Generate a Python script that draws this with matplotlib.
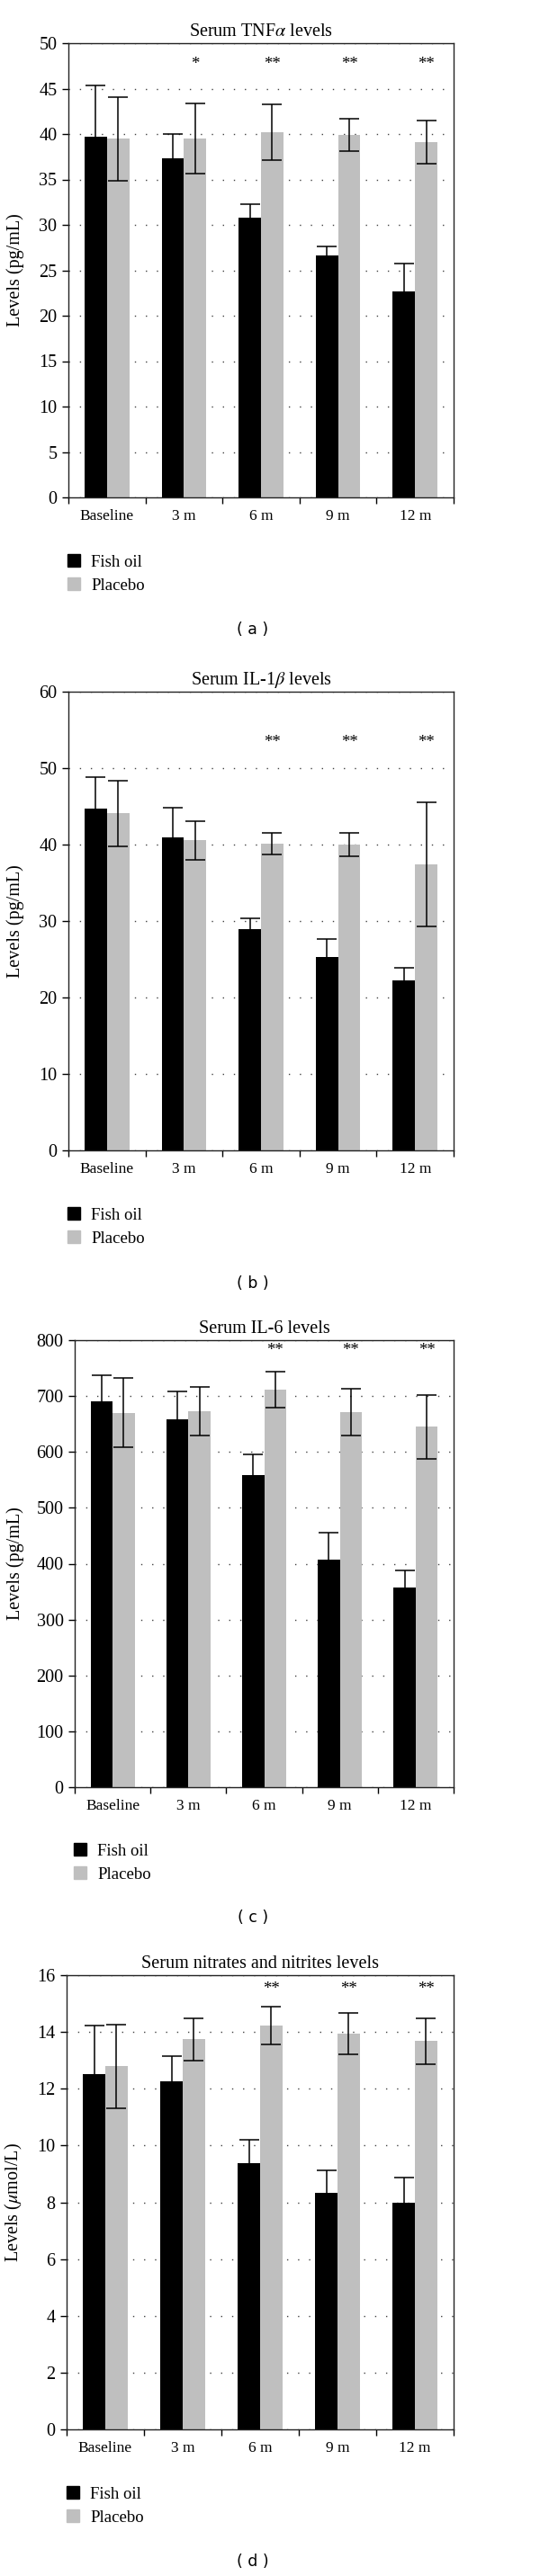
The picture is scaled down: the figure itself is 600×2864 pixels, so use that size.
import numpy as np
import matplotlib
matplotlib.use('Agg')
import matplotlib.pyplot as plt
import matplotlib.transforms as mtransforms
from matplotlib.patches import Patch

plt.rcParams['font.family'] = ['Liberation Serif', 'DejaVu Serif']
plt.rcParams['mathtext.fontset'] = 'stix'

# ---------------- дані ----------------
categories = ['Baseline', '3 m', '6 m', '9 m', '12 m']
groups = ['Fish oil', 'Placebo']

tnf_fish = [39.7, 37.35, 30.8, 26.6, 22.7]
tnf_fish_err = [5.6, 2.65, 1.45, 1.0, 3.0]
tnf_placebo = [39.5, 39.5, 40.2, 39.9, 39.1]
tnf_placebo_err = [4.6, 3.9, 3.05, 1.8, 2.4]
tnf_stars = ['', '*', '**', '**', '**']

il1_fish = [44.7, 41.0, 28.9, 25.3, 22.2]
il1_fish_err = [4.15, 3.8, 1.5, 2.35, 1.7]
il1_placebo = [44.1, 40.55, 40.1, 40.0, 37.45]
il1_placebo_err = [4.3, 2.5, 1.4, 1.5, 8.1]
il1_stars = ['', '', '**', '**', '**']

il6_fish = [690, 658, 559, 407, 357]
il6_fish_err = [48, 50, 37, 49, 31]
il6_placebo = [670, 673, 712, 671, 645]
il6_placebo_err = [62, 44, 32, 42, 57]
il6_stars = ['', '', '**', '**', '**']

no_fish = [12.53, 12.26, 9.38, 8.34, 7.98]
no_fish_err = [1.7, 0.9, 0.82, 0.8, 0.88]
no_placebo = [12.79, 13.74, 14.22, 13.95, 13.68]
no_placebo_err = [1.48, 0.74, 0.66, 0.73, 0.81]
no_stars = ['', '', '**', '**', '**']

# ---------------- розмітка панелей (пікселі) ----------------
W, H = 600, 2864
panels = [
    dict(title=r'Serum TNF$\alpha$ levels', ylabel='Levels (pg/mL)',
         fish=tnf_fish, fish_err=tnf_fish_err, plac=tnf_placebo, plac_err=tnf_placebo_err,
         stars=tnf_stars, star_y=47.7, ymax=50, ystep=5,
         box=(76, 48, 504, 553), legend_xy=(75, 638), tag='( a )', tag_y=700),
    dict(title=r'Serum IL-1$\beta$ levels', ylabel='Levels (pg/mL)',
         fish=il1_fish, fish_err=il1_fish_err, plac=il1_placebo, plac_err=il1_placebo_err,
         stars=il1_stars, star_y=53.4, ymax=60, ystep=10,
         box=(76, 769, 504, 1279), legend_xy=(75, 1364), tag='( b )', tag_y=1427),
    dict(title='Serum IL-6 levels', ylabel='Levels (pg/mL)',
         fish=il6_fish, fish_err=il6_fish_err, plac=il6_placebo, plac_err=il6_placebo_err,
         stars=il6_stars, star_y=781, ymax=800, ystep=100,
         box=(83, 1490, 504, 1987), legend_xy=(82, 2071), tag='( c )', tag_y=2132),
    dict(title='Serum nitrates and nitrites levels', ylabel=r'Levels ($\mu$mol/L)',
         fish=no_fish, fish_err=no_fish_err, plac=no_placebo, plac_err=no_placebo_err,
         stars=no_stars, star_y=15.5, ymax=16, ystep=2,
         box=(74, 2196, 504, 2701), legend_xy=(74, 2786), tag='( d )', tag_y=2848),
]

fig = plt.figure(figsize=(W / 100, H / 100), dpi=100)
x = np.arange(len(categories))
bw = 0.29
fs = 12.5

for p in panels:
    l, t, r, b = p['box']
    ax = fig.add_axes([l / W, 1 - b / H, (r - l) / W, (b - t) / H])
    ax.set_axisbelow(True)

    errkw = dict(ecolor='black', elinewidth=1.1, capsize=8, capthick=1.1)
    ax.bar(x - bw / 2, p['fish'], bw, yerr=p['fish_err'], color='black',
           error_kw=errkw, label=groups[0])
    ax.bar(x + bw / 2, p['plac'], bw, yerr=p['plac_err'], color='#bfbfbf',
           error_kw=errkw, label=groups[1])

    # зірочки значущості над плацебо
    for i, s in enumerate(p['stars']):
        if s:
            ax.text(x[i] + bw / 2, p['star_y'], s, ha='center', va='center', fontsize=fs + 1)

    ax.set_xlim(-0.5, len(categories) - 0.5)
    ax.set_ylim(0, p['ymax'])
    ax.set_yticks(np.arange(0, p['ymax'] + p['ystep'] / 2, p['ystep']))
    ax.set_xticks(np.arange(-0.5, len(categories), 1))
    ax.set_xticklabels([])
    ax.set_xticks(x, minor=True)
    ax.set_xticklabels(categories, minor=True)
    ax.tick_params(axis='x', which='minor', length=0, pad=9, labelsize=fs)
    ax.tick_params(axis='x', which='major', length=5, width=1, direction='out')
    ax.tick_params(axis='y', length=5, width=1, direction='out', pad=4, labelsize=fs + 2)
    ax.yaxis.grid(True, linestyle=(0, (1, 7.8)), linewidth=1.0, color='#444444')
    for sp in ax.spines.values():
        sp.set_linewidth(1.0)
        sp.set_color('#222222')

    ax.set_title(p['title'], fontsize=14.5, pad=6)
    ax.set_ylabel(p['ylabel'], fontsize=fs + 2)
    ax.yaxis.set_label_coords(27 / W, 0.5,
                              transform=mtransforms.blended_transform_factory(fig.transFigure, ax.transAxes))

    handles = [Patch(color='black'), Patch(color='#bfbfbf')]
    lx, ly = p['legend_xy']
    ax.legend(handles, groups, loc='center left', bbox_to_anchor=(lx / W, 1 - ly / H),
              bbox_transform=fig.transFigure, frameon=False, fontsize=fs + 1,
              handlelength=0.75, handleheight=0.75, handletextpad=0.65,
              labelspacing=0.45, borderpad=0, borderaxespad=0)

    fig.text(281 / W, 1 - p['tag_y'] / H, p['tag'], ha='center', va='center',
             fontsize=fs, family='DejaVu Sans')

fig.savefig('out.png', dpi=100)
